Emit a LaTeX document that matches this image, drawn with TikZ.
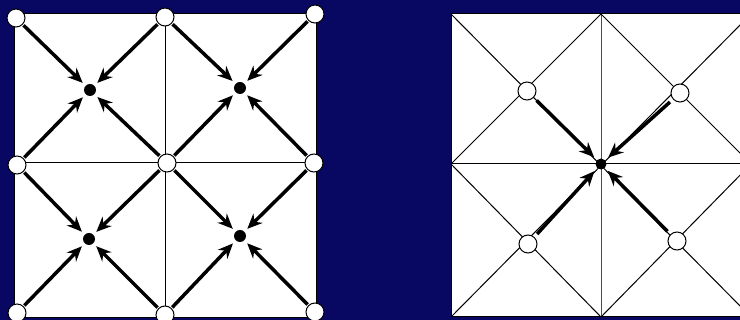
\documentclass[tikz,border=0pt]{standalone}
\usepackage{tikz}
\usetikzlibrary{arrows.meta, positioning, calc}

\definecolor{navy}{RGB}{8,8,98}

\begin{document}
\begin{tikzpicture}[
    x=1pt, y=-1pt,
    open/.style={circle, draw, line width=1pt, fill=white, minimum size=18pt, inner sep=0pt},
    sink/.style={circle, fill=black, minimum size=12pt, inner sep=0pt},
    flow/.style={line width=3.5pt, -{Stealth[length=15pt, width=13pt, inset=5pt]}, shorten >=4pt, shorten <=1pt},
    grid/.style={line width=1pt, black},
  ]
    % background and bounds
    \fill[navy] (0,0) rectangle (740,320);
    \useasboundingbox (0,0) rectangle (740,320);

    % left panel
    \fill[white] (14,14) rectangle (316,318);
    \draw[grid] (14,14) rectangle (316,318);
    \draw[grid] (165,14) -- (165,318);
    \draw[grid] (14,163) -- (316,163);

    \node[open] (tl) at (16,18) {};
    \node[open] (tm) at (165,17) {};
    \node[open] (tr) at (315,14) {};
    \node[open] (ml) at (17,165) {};
    \node[open] (mm) at (167,163) {};
    \node[open] (mr) at (314,163) {};
    \node[open] (bl) at (17,313) {};
    \node[open] (bm) at (165,315) {};
    \node[open] (br) at (315,312) {};

    \node[sink] (s1) at (90,90) {};
    \node[sink] (s2) at (240,88) {};
    \node[sink] (s3) at (89,239) {};
    \node[sink] (s4) at (240,236) {};

    \foreach \a/\b in {tl/s1, tm/s1, ml/s1, mm/s1,
                       tm/s2, tr/s2, mm/s2, mr/s2,
                       ml/s3, mm/s3, bl/s3, bm/s3,
                       mm/s4, mr/s4, bm/s4, br/s4}
      \draw[flow] (\a) -- (\b);

    % right panel
    \begin{scope}
      \clip (0,0) rectangle (740,320);
      \fill[white] (451,14) rectangle (751,317);
      \draw[grid] (451,14) rectangle (751,317);
      \draw[grid] (451,164) -- (751,164);
      \draw[grid, black!70] (601,14) -- (601,317);
      \draw[grid] (451,14) -- (751,317);
      \draw[grid] (751,14) -- (451,317);
      \draw[grid] (601,14) -- (451,164) -- (601,317) -- (751,164) -- cycle;
    \end{scope}

    \node[open] (c1) at (527,91) {};
    \node[open] (c2) at (680,93) {};
    \node[open] (c3) at (528,244) {};
    \node[open] (c4) at (677,241) {};
    \node[sink, minimum size=11pt] (hub) at (601,164) {};

    \foreach \a in {c1, c2, c3, c4}
      \draw[flow, shorten <=4pt] (\a) -- (hub);
\end{tikzpicture}
\end{document}
